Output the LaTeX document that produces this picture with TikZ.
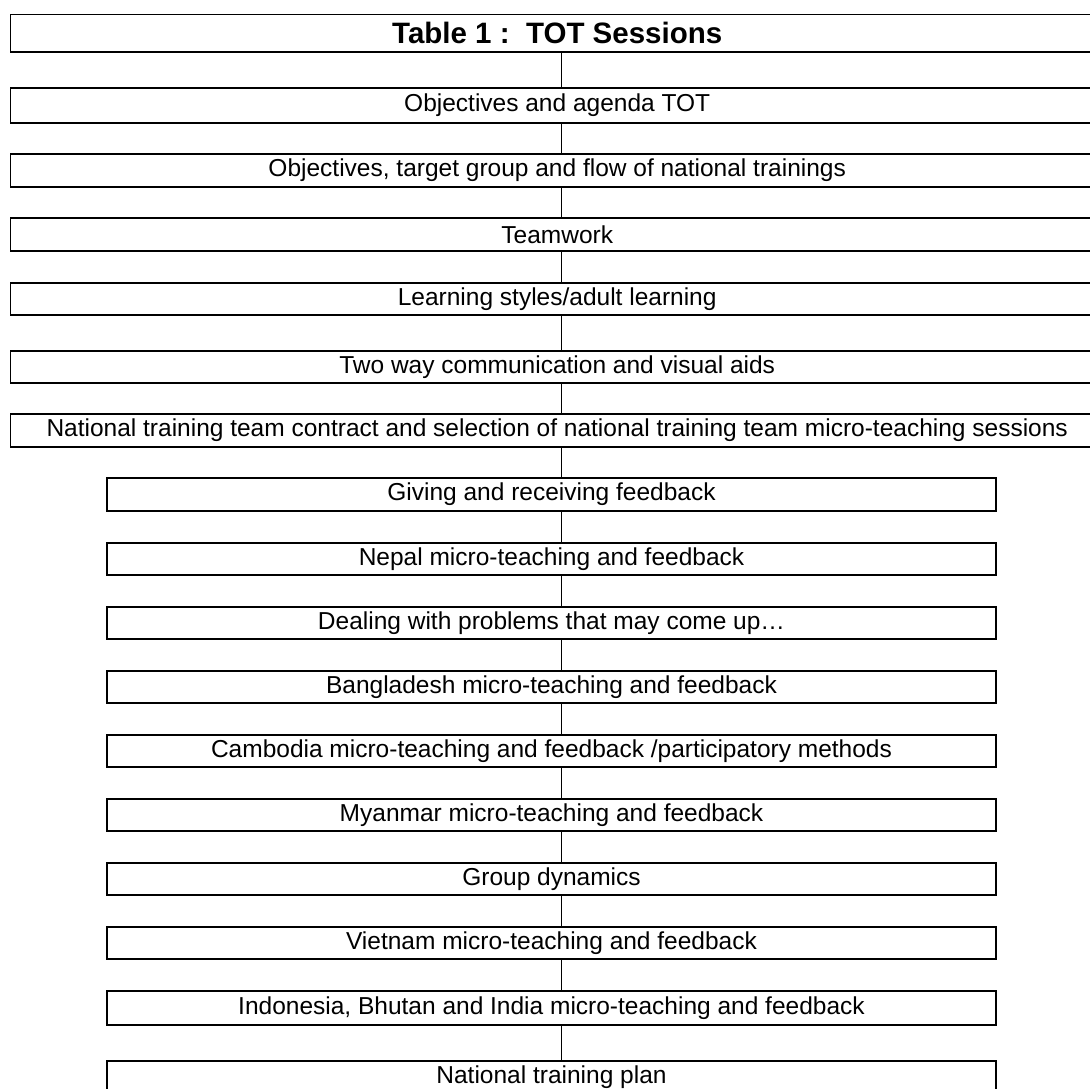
\documentclass[tikz,border=0pt]{standalone}
\usepackage{fontspec}
\setmainfont{Liberation Sans}
\begin{document}
\begin{tikzpicture}[x=1pt,y=-1pt,
  box/.style={draw, line width=1.7pt, inner sep=0pt, font=\fontsize{24.5}{29}\selectfont},
  widebox/.style={box, minimum width=1093.6pt},
  narrowbox/.style={box, minimum width=889pt},
  titlebox/.style={draw, line width=1.7pt, inner sep=0pt, minimum width=1093.6pt, font=\bfseries\fontsize{29.5}{34}\selectfont},
  conn/.style={draw, line width=1.5pt}]
\useasboundingbox (0,0) rectangle (1090,1089);
\clip (0,0) rectangle (1090,1089);
\fill[white] (0,0) rectangle (1090,1089);
\coordinate (cx) at (561.7,0);
% top wide boxes
\node[titlebox, minimum height=37.5pt] (t) at (557.2,33.2) {Table 1 :\ \ TOT Sessions};
\node[widebox, minimum height=35pt] (b1) at (557.2,105.5) {Objectives and agenda TOT};
\node[widebox, minimum height=33pt] (b2) at (557.2,170.5) {Objectives, target group and flow of national trainings};
\node[widebox, minimum height=33pt] (b3) at (557.2,234.5) {Teamwork};
\node[widebox, minimum height=32pt] (b4) at (557.2,299) {Learning styles/adult learning};
\node[widebox, minimum height=32pt] (b5) at (557.2,367) {Two way communication and visual aids};
\node[widebox, minimum height=33pt] (b6) at (557.2,430.5) {National training team contract and selection of national training team micro-teaching sessions};
% narrower boxes
\node[narrowbox, minimum height=33pt] (b7) at (551.5,494.5) {Giving and receiving feedback};
\node[narrowbox, minimum height=32pt] (b8) at (551.5,559) {Nepal micro-teaching and feedback};
\node[narrowbox, minimum height=32pt] (b9) at (551.5,623) {Dealing with problems that may come up…};
\node[narrowbox, minimum height=32pt] (b10) at (551.5,687) {Bangladesh micro-teaching and feedback};
\node[narrowbox, minimum height=32pt] (b11) at (551.5,751) {Cambodia micro-teaching and feedback /participatory methods};
\node[narrowbox, minimum height=32pt] (b12) at (551.5,815) {Myanmar micro-teaching and feedback};
\node[narrowbox, minimum height=32pt] (b13) at (551.5,879) {Group dynamics};
\node[narrowbox, minimum height=32pt] (b14) at (551.5,943) {Vietnam micro-teaching and feedback};
\node[narrowbox, minimum height=34pt] (b15) at (551.5,1008) {Indonesia, Bhutan and India micro-teaching and feedback};
\node[narrowbox, minimum height=33pt] (b16) at (551.5,1077.5) {National training plan};
% connectors
\foreach \a/\b in {t/b1,b1/b2,b2/b3,b3/b4,b4/b5,b5/b6,b6/b7,b7/b8,b8/b9,b9/b10,b10/b11,b11/b12,b12/b13,b13/b14,b14/b15,b15/b16}
  \draw[conn] (\a.south -| cx) -- (\b.north -| cx);
\end{tikzpicture}
\end{document}
